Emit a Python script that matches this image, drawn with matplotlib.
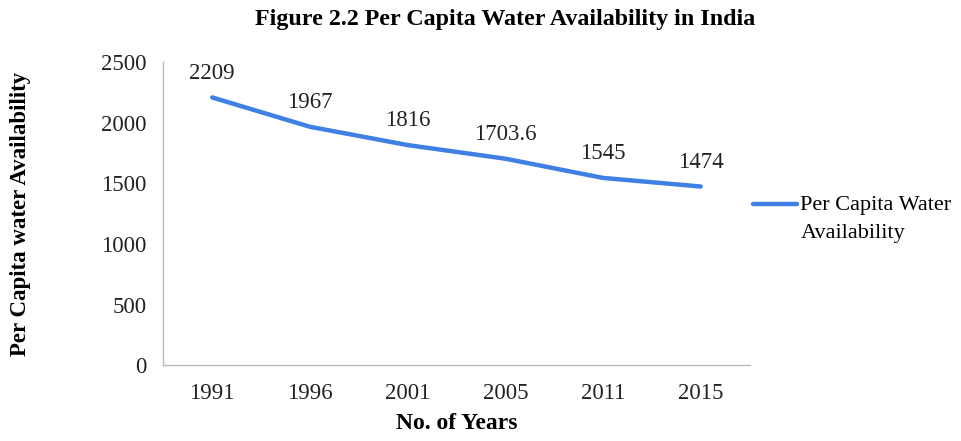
import matplotlib
matplotlib.use("Agg")
import matplotlib.pyplot as plt

years = ["1991", "1996", "2001", "2005", "2011", "2015"]
values = [2209, 1967, 1816, 1703.6, 1545, 1474]
labels = ["2209", "1967", "1816", "1703.6", "1545", "1474"]
yticks = [0, 500, 1000, 1500, 2000, 2500]

plt.rcParams['font.family'] = ['Liberation Serif', 'DejaVu Serif']

fig = plt.figure(figsize=(9.61, 4.41), dpi=100)
ax = fig.add_axes([0.170, 0.172, 0.610, 0.687])

x = list(range(len(years)))
ax.plot(x, values, color='#3f80e4', lw=3.2, solid_capstyle='round',
        label="Per Capita Water\nAvailability")
for xi, v, t in zip(x, values, labels):
    ax.annotate(t, (xi, v), xytext=(0, 10), textcoords='offset points',
                ha='center', va='bottom', fontsize=16.5, color='#222222')

ax.set_xlim(-0.5, len(years) - 0.5)
ax.set_ylim(0, 2500)
ax.set_xticks(x)
ax.set_xticklabels(years, fontsize=16.5)
ax.set_yticks(yticks)
ax.set_yticklabels([str(v) for v in yticks], fontsize=16.5)
ax.tick_params(axis='both', length=0, colors='#222222')
ax.tick_params(axis='x', pad=13)
ax.tick_params(axis='y', pad=12)
for s in ['top', 'right']:
    ax.spines[s].set_visible(False)
for s in ['left', 'bottom']:
    ax.spines[s].set_color('#bbbbbb')
    ax.spines[s].set_linewidth(1.0)

ax.set_xlabel("No. of Years", fontsize=17, fontweight='bold', labelpad=6)
fig.text(0.021, 0.515, "Per Capita water Availability", rotation=90,
         ha='center', va='center', fontsize=16.5, fontweight='bold')
fig.text(0.526, 0.955, "Figure 2.2 Per Capita Water Availability in India",
         ha='center', va='center', fontsize=17.3, fontweight='bold')

leg = ax.legend(loc='upper left', bbox_to_anchor=(0.971, 0.624), frameon=False,
                fontsize=16, handlelength=2.0, handletextpad=0.15)
for t in leg.get_texts():
    t.set_linespacing(1.62)
# align the legend line with the first text row
for ln in leg.get_lines():
    ln.set_ydata([y + 10.8 for y in ln.get_ydata()])

fig.savefig("out.png", dpi=100, facecolor='white')
